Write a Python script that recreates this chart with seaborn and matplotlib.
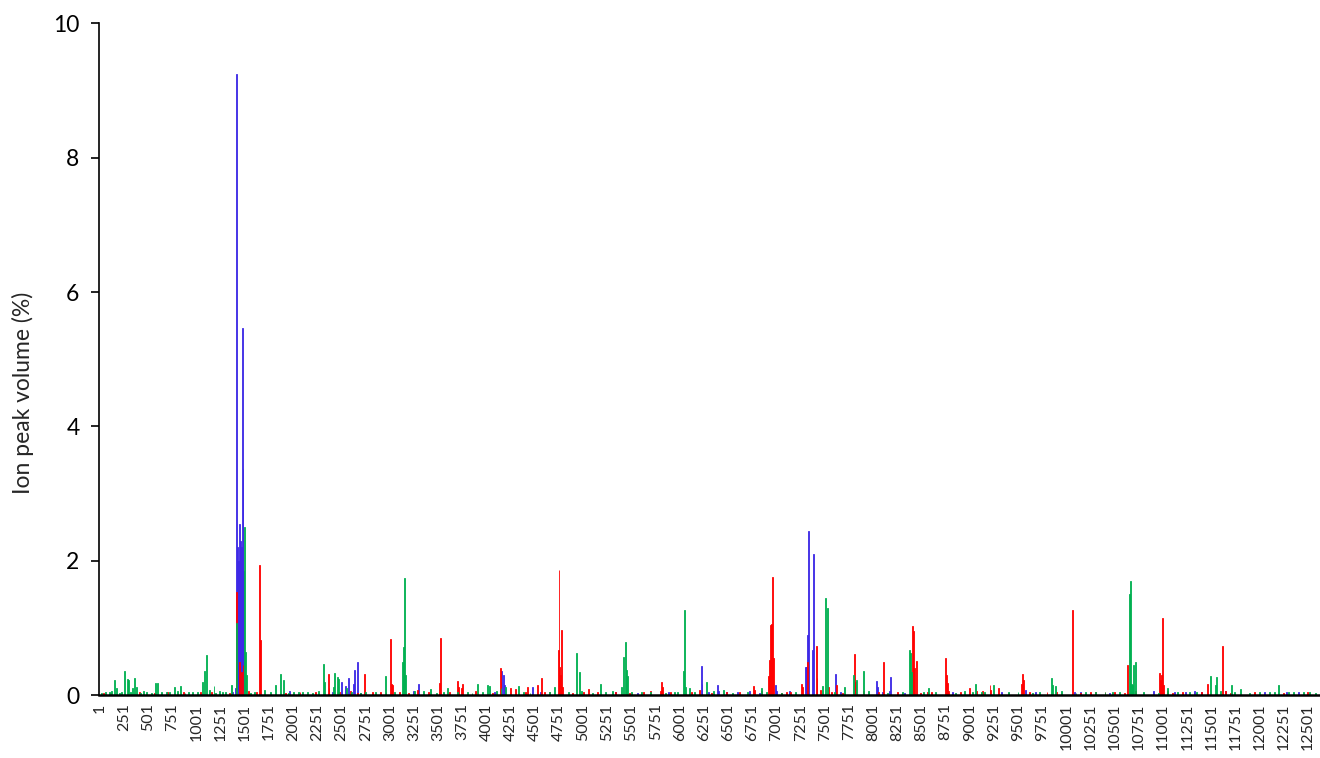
import numpy as np
import pandas as pd
import matplotlib
matplotlib.use('Agg')
import matplotlib.pyplot as plt
import seaborn as sns

# peak positions (ion index) and volumes (%), per series
green_idx = [146, 170, 250, 284, 300, 340, 364, 380, 571, 602, 690, 773, 830, 960,
             1055, 1079, 1100, 1130, 1182, 1300, 1355, 1405, 1496, 1510, 1520, 1700,
             1815, 1873, 1897, 2050, 2150, 2312, 2322, 2416, 2426, 2457, 2467, 2550,
             2750, 2947, 3131, 3141, 3151, 3161, 3250, 3420, 3600, 3800, 3914, 4010,
             4030, 4150, 4200, 4333, 4700, 4925, 4960, 4980, 5182, 5230, 5400, 5421,
             5441, 5451, 5461, 5500, 5950, 5980, 6039, 6049, 6060, 6095, 6281, 6450,
             6850, 7480, 7514, 7525, 7700, 7797, 7827, 7897, 8377, 8387, 8397, 8520,
             8570, 9030, 9058, 9120, 9247, 9400, 9845, 9860, 9885, 10200, 10300,
             10400, 10480, 10647, 10657, 10667, 10677, 10698, 10715, 11050, 11270,
             11485, 11540, 11550, 11710, 11735, 11800, 12000, 12100, 12204, 12300,
             12450, 12520]
green_val = [0.22, 0.10, 0.36, 0.24, 0.22, 0.10, 0.25, 0.12, 0.18, 0.18, 0.05, 0.12, 0.13, 0.05,
             0.20, 0.36, 0.60, 0.08, 0.14, 0.05, 0.15, 1.07, 2.50, 0.64, 0.30, 0.08,
             0.15, 0.32, 0.22, 0.05, 0.05, 0.47, 0.20, 0.12, 0.33, 0.27, 0.24, 0.11,
             0.05, 0.28, 0.50, 0.72, 1.74, 0.30, 0.06, 0.09, 0.10, 0.05, 0.17, 0.15,
             0.13, 0.10, 0.12, 0.14, 0.12, 0.62, 0.35, 0.06, 0.16, 0.04, 0.12, 0.56,
             0.79, 0.37, 0.28, 0.05, 0.05, 0.05, 0.36, 1.26, 0.12, 0.11, 0.20, 0.08,
             0.10, 0.14, 1.44, 1.29, 0.12, 0.30, 0.22, 0.36, 0.67, 0.62, 0.35, 0.05,
             0.10, 0.05, 0.17, 0.04, 0.15, 0.05, 0.25, 0.15, 0.14, 0.04, 0.05,
             0.04, 0.05, 1.50, 1.70, 0.17, 0.15, 0.45, 0.49, 0.11, 0.04,
             0.29, 0.15, 0.27, 0.15, 0.05, 0.09, 0.04, 0.05, 0.15, 0.04,
             0.05, 0.04]

red_idx = [40, 700, 1150, 1410, 1440, 1460, 1480, 1648, 1660, 2070, 2360, 2370, 2737,
           2820, 2900, 3006, 3016, 3026, 3290, 3400, 3514, 3524, 3697, 3707, 3738, 3748,
           4136, 4146, 4250, 4300, 4422, 4529, 4570, 4600, 4737, 4747, 4757, 4767, 4778,
           4788, 5060, 5330, 5620, 5802, 5812, 5822, 6200, 6620, 6760, 6770, 6915, 6925,
           6935, 6945, 6955, 6965, 7100, 7255, 7265, 7316, 7413, 7423, 7460, 7537, 7617,
           7807, 7817, 8111, 8408, 8418, 8428, 8453, 8560, 8600, 8747, 8757, 8767, 8780,
           9000, 9130, 9206, 9216, 9300, 9541, 9551, 9561, 9900, 10060, 10300, 10400,
           10600, 10626, 10961, 10971, 10981, 10996, 11006, 11050, 11458, 11623, 11650]
red_val = [0.03, 0.04, 0.05, 1.53, 0.50, 0.35, 0.45, 1.93, 0.82, 0.04, 0.31, 0.10, 0.31,
           0.04, 0.04, 0.83, 0.17, 0.15, 0.08, 0.04, 0.18, 0.85, 0.21, 0.12, 0.10, 0.17,
           0.41, 0.20, 0.10, 0.09, 0.12, 0.15, 0.25, 0.04, 0.67, 1.86, 0.42, 0.30, 0.97,
           0.12, 0.09, 0.04, 0.04, 0.06, 0.20, 0.12, 0.08, 0.04, 0.14, 0.08, 0.28, 0.52,
           1.04, 1.06, 1.76, 0.55, 0.04, 0.17, 0.12, 0.50, 0.73, 0.25, 0.07, 0.12, 0.15,
           0.61, 0.20, 0.50, 1.03, 0.95, 0.40, 0.51, 0.05, 0.05, 0.55, 0.30, 0.18, 0.06,
           0.10, 0.06, 0.15, 0.08, 0.10, 0.17, 0.31, 0.23, 0.04, 1.27, 0.04, 0.04,
           0.03, 0.45, 0.33, 0.23, 0.30, 1.15, 0.15, 0.06, 0.16, 0.73, 0.06]

blue_idx = [1400, 1410, 1420, 1430, 1440, 1450, 1460, 1469, 1479, 1489, 1960, 2495, 2540,
            2567, 2623, 2633, 2664, 3300, 4156, 4176, 4186, 4484, 5330, 6218, 6228, 6300,
            6392, 6402, 6600, 6720, 6990, 7000, 7296, 7306, 7324, 7334, 7365, 7379, 7607,
            8039, 8049, 8170, 8180, 9330, 9580, 10080, 10900, 11230, 11330, 11400, 12400]
blue_val = [0.10, 9.25, 2.20, 2.00, 2.55, 2.30, 2.20, 5.47, 3.37, 1.85, 0.06, 0.20, 0.14,
            0.25, 0.17, 0.37, 0.50, 0.17, 0.36, 0.30, 0.15, 0.12, 0.05, 0.44, 0.17, 0.04,
            0.15, 0.06, 0.04, 0.06, 0.15, 0.06, 0.42, 0.42, 0.89, 2.45, 0.67, 2.10, 0.31,
            0.21, 0.12, 0.06, 0.27, 0.05, 0.07, 0.05, 0.06, 0.05, 0.06, 0.05, 0.04]

# the thin carpet of tiny peaks along the baseline
green_low_idx = [20, 60, 95, 120, 200, 220, 320, 420, 450, 480, 530, 640, 720, 800, 880,
                 920, 1010, 1200, 1240, 1270, 1560, 1600, 1760, 1950, 2000, 2100, 2200,
                 2260, 2600, 2700, 2850, 3050, 3350, 3480, 3550, 3700, 3850, 3960, 4100,
                 4380, 4450, 4650, 4850, 5100, 5300, 5600, 5700, 5850, 6150, 6350, 6550,
                 6700, 6900, 7050, 7200, 7600, 7950, 8150, 8300, 8650, 8850, 8950, 9150,
                 9500, 9650, 9720, 9950, 10100, 10550, 10800, 10950, 11150, 11350, 11600,
                 11900, 12150, 12350, 12580]
green_low_val = [0.03, 0.05, 0.04, 0.06, 0.03, 0.05, 0.04, 0.03, 0.06, 0.04, 0.03, 0.05,
                 0.04, 0.06, 0.03, 0.04, 0.05, 0.03, 0.06, 0.04, 0.03, 0.05, 0.04, 0.03,
                 0.05, 0.04, 0.03, 0.06, 0.04, 0.03, 0.05, 0.04, 0.06, 0.03, 0.05, 0.04,
                 0.03, 0.05, 0.06, 0.04, 0.03, 0.05, 0.04, 0.03, 0.06, 0.04, 0.05, 0.03,
                 0.04, 0.06, 0.03, 0.05, 0.04, 0.03, 0.05, 0.04, 0.06, 0.03, 0.05, 0.04,
                 0.03, 0.06, 0.04, 0.05, 0.03, 0.04, 0.06, 0.03, 0.05, 0.04, 0.03, 0.05,
                 0.04, 0.06, 0.03, 0.05, 0.04, 0.03]
red_low_idx = [110, 410, 560, 860, 1040, 1340, 1540, 1620, 1920, 2230, 2480, 2590, 2660,
               2960, 3100, 3190, 3620, 3890, 4060, 4400, 4650, 4890, 5000, 5150, 5480,
               5700, 5900, 6120, 6330, 6480, 6850, 7050, 7150, 7570, 7680, 7900, 8060,
               8250, 8490, 8900, 9070, 9400, 9620, 9800, 10150, 10250, 10500, 10720,
               11100, 11200, 11400, 11700, 11950, 12250, 12500]
red_low_val = [0.03, 0.04, 0.03, 0.05, 0.04, 0.03, 0.06, 0.04, 0.03, 0.05, 0.04, 0.06,
               0.03, 0.04, 0.05, 0.03, 0.04, 0.06, 0.03, 0.05, 0.04, 0.03, 0.05, 0.04,
               0.03, 0.06, 0.04, 0.05, 0.03, 0.04, 0.06, 0.03, 0.05, 0.04, 0.03, 0.06,
               0.04, 0.05, 0.03, 0.04, 0.06, 0.03, 0.05, 0.04, 0.03, 0.05, 0.04, 0.06,
               0.03, 0.05, 0.04, 0.03, 0.04, 0.03, 0.04]
blue_low_idx = [1370, 2410, 2700, 3240, 4080, 4560, 5560, 5880, 6480, 6820, 7140, 7660,
                8100, 8330, 8820, 9680, 10150, 10450, 11000, 11120, 11650, 12050, 12280]
blue_low_val = [0.04, 0.05, 0.03, 0.06, 0.04, 0.05, 0.03, 0.04, 0.05, 0.03, 0.06, 0.04,
                0.05, 0.03, 0.04, 0.05, 0.04, 0.03, 0.05, 0.04, 0.06, 0.04, 0.05]

tick_labels = [str(v) for v in range(1, 12502, 250)]

df = pd.concat([
    pd.DataFrame({'ion': green_idx + green_low_idx,
                  'volume': green_val + green_low_val, 'series': 'green'}),
    pd.DataFrame({'ion': red_idx + red_low_idx,
                  'volume': red_val + red_low_val, 'series': 'red'}),
    pd.DataFrame({'ion': blue_idx + blue_low_idx,
                  'volume': blue_val + blue_low_val, 'series': 'blue'}),
], ignore_index=True)

sns.set_style('white')
plt.rcParams['font.family'] = ['Lato', 'DejaVu Sans']

fig = plt.figure(figsize=(13.2, 7.58), dpi=100)
ax = fig.add_axes([0.075, 0.083, 0.925, 0.886])

palette = {'green': '#00B050', 'red': '#FF0000', 'blue': '#3C28E6'}
sns.histplot(data=df, x='ion', weights='volume', hue='series',
             hue_order=['green', 'red', 'blue'], palette=palette,
             binwidth=10, binrange=(-5, 12655), multiple='layer', element='bars',
             alpha=1, linewidth=0, legend=False, ax=ax)

# excel draws each thin bar at least about one pixel wide
for bar in ax.patches:
    fc = bar.get_facecolor()
    bar.set_edgecolor(fc)
    bar.set_linewidth(0.6 if bar.get_height() > 0 else 0)

ax.set_xlim(-10, 12625)
ax.set_ylim(0, 10)
ax.set_yticks([0, 2, 4, 6, 8, 10])
ax.set_xticks([int(t) for t in tick_labels])
ax.set_xticklabels(tick_labels, rotation=90, fontsize=11.5, color='#262626')
ax.tick_params(axis='y', labelsize=16.5, length=6, width=1.2, direction='out',
               left=True, colors='black', pad=8)
ax.tick_params(axis='x', length=0, pad=6)
ax.set_ylabel('Ion peak volume (%)', fontsize=16.5)
ax.yaxis.set_label_coords(-0.053, 0.45)
ax.set_xlabel('')
sns.despine(ax=ax)
for s in ['left', 'bottom']:
    ax.spines[s].set_color('black')
ax.spines['left'].set_linewidth(1.2)
ax.spines['bottom'].set_linewidth(1.8)

fig.savefig('out.png', dpi=100)
